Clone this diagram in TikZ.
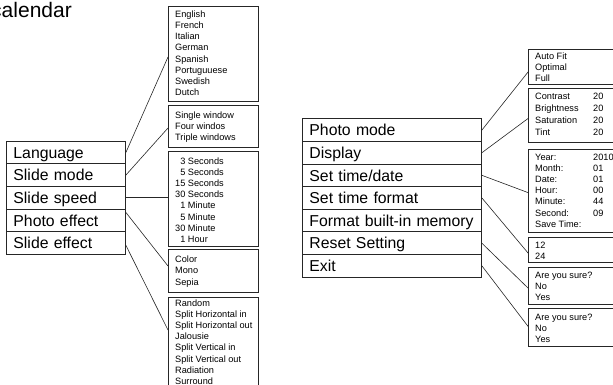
\documentclass[tikz,border=0pt]{standalone}
\usepackage{fontspec}
\setmainfont{Liberation Sans}
\begin{document}
\begin{tikzpicture}[x=1pt,y=-1pt,
  menurow/.style={draw=black!85, line width=0.9pt, anchor=north west, inner xsep=7pt, inner ysep=0pt,
    text height=11.5pt, text depth=0pt, align=left, font=\fontsize{15.8}{19}\selectfont},
  lbox/.style={draw=black!85, line width=0.8pt, anchor=north west, inner sep=0pt},
  ltext/.style={anchor=base west, inner sep=0pt, align=left, font=\fontsize{9.2}{11.2}\selectfont},
  conn/.style={draw=black!85, line width=0.6pt}]
\useasboundingbox (0,0) rectangle (613,385);
\clip (0,0) rectangle (613,385);

% title fragment
\node[anchor=base east, inner sep=0pt, font=\fontsize{21}{25}\selectfont] (cal) at (72,17.5) {calendar};

% ---------- left menu ----------
\node[menurow, text width=105pt, minimum height=22.6pt] (lang)   at (6,140.7) {Language};
\node[menurow, text width=105pt, minimum height=22.6pt] (mode)   at (6,163.3) {Slide mode};
\node[menurow, text width=105pt, minimum height=22.6pt] (speed)  at (6,185.9) {Slide speed};
\node[menurow, text width=105pt, minimum height=22.6pt] (photo)  at (6,208.5) {Photo effect};
\node[menurow, text width=105pt, minimum height=22.6pt] (effect) at (6,231.1) {Slide effect};

% ---------- left lists (text anchored at last baseline) ----------
\node[lbox, minimum width=90pt, minimum height=94.7pt] (langbox) at (168,6) {};
\node[ltext] (langtxt) at (175,95.7) {English\\French\\Italian\\German\\Spanish\\Portuguuese\\Swedish\\Dutch};

\node[lbox, minimum width=90pt, minimum height=41.7pt] (modebox) at (168,105) {};
\node[ltext] (modetxt) at (175,140.7) {Single window\\Four windos\\Triple windows};

\node[lbox, minimum width=90pt, minimum height=95pt] (speedbox) at (168,150.7) {};
\node[ltext] (speedtxt) at (175,242.4) {\phantom{1}3 Seconds\\ \phantom{1}5 Seconds\\15 Seconds\\30 Seconds\\ \phantom{1}1 Minute\\ \phantom{1}5 Minute\\30 Minute\\ \phantom{1}1 Hour};

\node[lbox, minimum width=90pt, minimum height=42.4pt] (colorbox) at (168,249.3) {};
\node[ltext] (colortxt) at (175,285) {Color\\Mono\\Sepia};

\node[lbox, minimum width=90pt, minimum height=110pt] (randbox) at (168,297.3) {};
\node[ltext] (randtxt) at (175,384.4) {Random\\Split Horizontal in\\Split Horizontal out\\Jalousie\\Split Vertical in\\Split Vertical out\\Radiation\\Surround};

% ---------- left connectors ----------
\draw[conn] (lang.east) -- ([yshift=-51pt]langbox.north west);
\draw[conn] (mode.east) -- ([yshift=-23pt]modebox.north west);
\draw[conn] (speed.east) -- (speed.east -| speedbox.west);
\draw[conn] ([yshift=7.8pt]photo.east) -- ([yshift=-16.7pt]colorbox.north west);
\draw[conn] ([yshift=-2.5pt]effect.east) -- ([yshift=-32.7pt]randbox.north west);

% ---------- right menu ----------
\node[menurow, text width=165pt, minimum height=22.63pt] (r1) at (302,118.3)  {Photo mode};
\node[menurow, text width=165pt, minimum height=22.63pt] (r2) at (302,140.93) {Display};
\node[menurow, text width=165pt, minimum height=22.63pt] (r3) at (302,163.56) {Set time/date};
\node[menurow, text width=165pt, minimum height=22.63pt] (r4) at (302,186.19) {Set time format};
\node[menurow, text width=165pt, minimum height=22.63pt] (r5) at (302,208.82) {Format built-in memory};
\node[menurow, text width=165pt, minimum height=22.63pt] (r6) at (302,231.45) {Reset Setting};
\node[menurow, text width=165pt, minimum height=22.63pt] (r7) at (302,254.08) {Exit};

% ---------- right lists ----------
\node[lbox, minimum width=110pt, minimum height=35pt] (autobox) at (528.3,49.3) {};
\node[ltext] (autotxt) at (535,81.9) {Auto Fit\\Optimal\\Full};

\node[lbox, minimum width=110pt, minimum height=54pt] (contbox) at (528.3,88) {};
\node[ltext, font=\fontsize{9.2}{12}\selectfont] (conttxt) at (535,135.5) {\makebox[58pt][l]{Contrast}20\\\makebox[58pt][l]{Brightness}20\\\makebox[58pt][l]{Saturation}20\\\makebox[58pt][l]{Tint}20};

\node[lbox, minimum width=110pt, minimum height=82.4pt] (yearbox) at (528.3,149.3) {};
\node[ltext] (yeartxt) at (535,227.2) {\makebox[58pt][l]{Year:}2010\\\makebox[58pt][l]{Month:}01\\\makebox[58pt][l]{Date:}01\\\makebox[58pt][l]{Hour:}00\\\makebox[58pt][l]{Minute:}44\\\makebox[58pt][l]{Second:}09\\Save Time:};

\node[lbox, minimum width=110pt, minimum height=25pt] (fmtbox) at (528.3,236.7) {};
\node[ltext] (fmttxt) at (535,259.5) {12\\24};

\node[lbox, minimum width=110pt, minimum height=36.7pt] (sure1) at (528.3,267.3) {};
\node[ltext] (sure1txt) at (535,300.7) {Are you sure?\\No\\Yes};

\node[lbox, minimum width=110pt, minimum height=37.7pt] (sure2) at (528.3,308.3) {};
\node[ltext] (sure2txt) at (535,342.4) {Are you sure?\\No\\Yes};

% ---------- right connectors ----------
\draw[conn] (r1.east) -- ([yshift=-22.4pt]autobox.north west);
\draw[conn] (r2.east) -- ([yshift=-30.3pt]contbox.north west);
\draw[conn] (r3.east) -- ([yshift=-43.4pt]yearbox.north west);
\draw[conn] (r4.east) -- ([yshift=-16.6pt]fmtbox.north west);
\draw[conn] (r6.east) -- ([yshift=-21pt]sure1.north west);
\draw[conn] (r7.east) -- ([yshift=-18.4pt]sure2.north west);
\end{tikzpicture}
\end{document}
